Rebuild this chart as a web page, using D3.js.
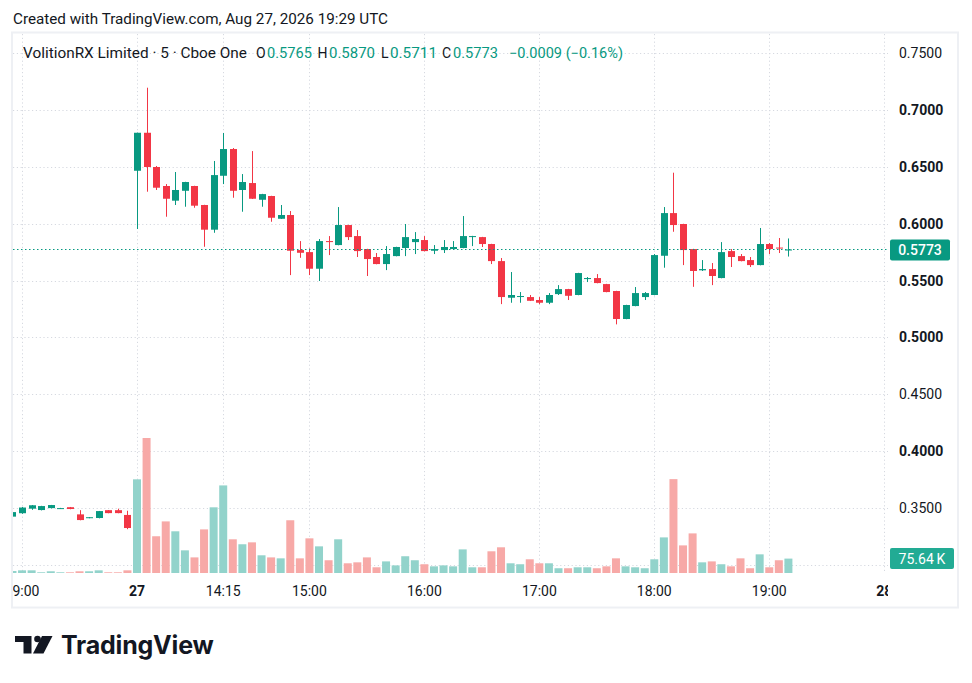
<!DOCTYPE html>
<html>
<head>
<meta charset="utf-8">
<script src="https://cdn.jsdelivr.net/npm/d3@7"></script>
<style>
  body { margin: 0; background: #fff; }
  svg text { font-family: Roboto, "Liberation Sans", sans-serif; }
</style>
</head>
<body>
<svg id="chart" width="972" height="683"></svg>
<script>
// 5 minute bars: last hour of Aug 26 (18:55-19:55) then Aug 27 from 13:30
const sessions = [
  ['2026-08-26T18:55:00Z', '2026-08-26T20:00:00Z'],
  ['2026-08-27T13:30:00Z', '2026-08-27T19:15:00Z']
]
const times = sessions.flatMap(s => d3.utcMinute.every(5).range(new Date(s[0]), new Date(s[1])))

const open = [
  0.3425, 0.3455, 0.3495, 0.3483, 0.3500, 0.3495, 0.3508, 0.3445, 0.3413, 0.3413, 0.3482, 0.3482, 0.3440,
  0.6465, 0.6799, 0.6498, 0.6331, 0.6202, 0.6289, 0.6331, 0.6164, 0.5947, 0.6421,
  0.6656, 0.6296, 0.6357, 0.6210, 0.6243, 0.6043, 0.6076, 0.5768, 0.5750, 0.5604,
  0.5847, 0.5812, 0.5988, 0.5891, 0.5777, 0.5707, 0.5645, 0.5715, 0.5786, 0.5838,
  0.5856, 0.5762, 0.5768, 0.5777, 0.5786, 0.5882, 0.5882, 0.5821, 0.5671, 0.5349,
  0.5358, 0.5355, 0.5329, 0.5305, 0.5381, 0.5425, 0.5373, 0.5513, 0.5522, 0.5469,
  0.5408, 0.5162, 0.5276, 0.5355, 0.5373, 0.5718, 0.6093, 0.5997, 0.5777, 0.5590,
  0.5601, 0.5522, 0.5759, 0.5715, 0.5680, 0.5636, 0.5821, 0.5790, 0.5765
]
const high = [
  0.3470, 0.3510, 0.3527, 0.3520, 0.3528, 0.3502, 0.3510, 0.3482, 0.3421, 0.3475, 0.3483, 0.3495, 0.3477,
  0.6800, 0.7195, 0.6507, 0.6348, 0.6454, 0.6368, 0.6333, 0.6166, 0.6551, 0.6797,
  0.6665, 0.6436, 0.6638, 0.6262, 0.6245, 0.6164, 0.6111, 0.5847, 0.5783, 0.5865,
  0.5891, 0.6146, 0.5990, 0.5944, 0.5779, 0.5742, 0.5803, 0.5797, 0.5997, 0.5926,
  0.5891, 0.5812, 0.5856, 0.5847, 0.6067, 0.5893, 0.5884, 0.5823, 0.5698, 0.5575,
  0.5399, 0.5373, 0.5355, 0.5390, 0.5460, 0.5427, 0.5568, 0.5531, 0.5557, 0.5471,
  0.5410, 0.5287, 0.5443, 0.5399, 0.5733, 0.6146, 0.6448, 0.5999, 0.5779, 0.5680,
  0.5654, 0.5838, 0.5777, 0.5733, 0.5707, 0.5962, 0.5830, 0.5874, 0.5870
]
const low = [
  0.3420, 0.3450, 0.3485, 0.3480, 0.3498, 0.3493, 0.3490, 0.3393, 0.3411, 0.3410, 0.3455, 0.3455, 0.3315,
  0.5953, 0.6281, 0.6296, 0.6061, 0.6164, 0.6149, 0.6140, 0.5797, 0.5920, 0.6348,
  0.6228, 0.6105, 0.6217, 0.6149, 0.6017, 0.6041, 0.5548, 0.5700, 0.5548, 0.5496,
  0.5724, 0.5810, 0.5856, 0.5707, 0.5540, 0.5643, 0.5592, 0.5713, 0.5715, 0.5733,
  0.5757, 0.5733, 0.5742, 0.5775, 0.5784, 0.5803, 0.5795, 0.5645, 0.5293, 0.5305,
  0.5305, 0.5320, 0.5293, 0.5293, 0.5373, 0.5329, 0.5371, 0.5487, 0.5476, 0.5397,
  0.5115, 0.5160, 0.5274, 0.5329, 0.5371, 0.5613, 0.5929, 0.5636, 0.5445, 0.5584,
  0.5460, 0.5520, 0.5619, 0.5669, 0.5619, 0.5634, 0.5733, 0.5742, 0.5711
]
const close = [
  0.3465, 0.3505, 0.3525, 0.3518, 0.3527, 0.3500, 0.3492, 0.3395, 0.3420, 0.3474, 0.3456, 0.3456, 0.3325,
  0.6799, 0.6498, 0.6316, 0.6219, 0.6296, 0.6366, 0.6158, 0.5947, 0.6427, 0.6656,
  0.6289, 0.6366, 0.6219, 0.6260, 0.6052, 0.6076, 0.5762, 0.5744, 0.5604, 0.5847,
  0.5838, 0.5988, 0.5882, 0.5759, 0.5689, 0.5645, 0.5733, 0.5795, 0.5882, 0.5865,
  0.5759, 0.5777, 0.5795, 0.5795, 0.5891, 0.5891, 0.5821, 0.5671, 0.5355, 0.5373,
  0.5364, 0.5322, 0.5305, 0.5373, 0.5425, 0.5366, 0.5566, 0.5522, 0.5478, 0.5399,
  0.5162, 0.5285, 0.5390, 0.5390, 0.5724, 0.6093, 0.5988, 0.5768, 0.5584, 0.5601,
  0.5540, 0.5750, 0.5707, 0.5671, 0.5636, 0.5821, 0.5777, 0.5782, 0.5773
]
const volume = [
  10500, 14000, 14000, 3700, 9000, 3700, 3700, 9000, 9000, 14000, 3700, 3700, 14000,
  492000, 709000, 193000, 271000, 219000, 119000, 82000, 229000, 345000, 460000,
  177000, 151000, 161000, 93000, 82000, 77000, 277000, 77000, 182000, 140000,
  67000, 177000, 51000, 56000, 82000, 30000, 61000, 40000, 88000, 67000,
  46000, 35000, 40000, 35000, 124000, 30000, 30000, 114000, 135000, 51000,
  46000, 72000, 51000, 51000, 25000, 25000, 30000, 30000, 25000, 35000,
  77000, 35000, 30000, 25000, 72000, 187000, 493000, 145000, 208000, 56000,
  61000, 46000, 35000, 77000, 25000, 98000, 30000, 67000, 75640
]

// axis ticks (0.3000 sits behind the volume tag, so it only gets a grid line)
const gridPrices = [0.30, 0.35, 0.40, 0.45, 0.50, 0.55, 0.60, 0.65, 0.70, 0.75]
const priceTicks = [0.35, 0.40, 0.45, 0.50, 0.55, 0.60, 0.65, 0.70, 0.75]
const boldPrices = [0.40, 0.50, 0.55, 0.60, 0.65, 0.70]
const timeTickIdx = [1, 13, 22, 31, 43, 55, 67, 79, 91]
const timeTickLabels = ['19:00', '27', '14:15', '15:00', '16:00', '17:00', '18:00', '19:00', '28']
const boldTimeLabels = ['27', '28']

const symbolName = 'VolitionRX Limited · 5 · Cboe One'
const createdText = 'Created with TradingView.com, Aug 27, 2026 19:29 UTC'

const up = '#089981'
const down = '#f23645'
const upVol = '#92d3cb'
const downVol = '#f7a9a7'
const textColor = '#131722'

const bars = times.map((t, i) => ({
  i, t, o: open[i], h: high[i], l: low[i], c: close[i], v: volume[i]
}))

const pane = { left: 13, right: 888, top: 34, bottom: 573 }

const svg = d3.select('#chart')

// bar index -> pixel, index 13 is the first bar of the 27th
const x = d3.scaleLinear().domain([13, 91]).range([137, 884.2])
const y = d3.scaleLinear().domain([0.30, 0.75]).range([565, 53])
const yVol = d3.scaleLinear().domain([0, d3.max(volume)]).range([pane.bottom, pane.bottom - 135])

svg.append('text')
  .attr('x', 13).attr('y', 24)
  .attr('fill', textColor)
  .attr('textLength', 375)
  .attr('lengthAdjust', 'spacingAndGlyphs')
  .style('font-size', '14.5px')
  .text(createdText)

// frame
svg.append('rect')
  .attr('x', 12).attr('y', 32.5)
  .attr('width', 946).attr('height', 575)
  .attr('fill', 'none')
  .attr('stroke', '#eef0f4')
  .attr('stroke-width', 2)

svg.append('clipPath').attr('id', 'pane')
  .append('rect')
  .attr('x', pane.left).attr('y', pane.top)
  .attr('width', pane.right - pane.left).attr('height', 607 - pane.top)

const g = svg.append('g').attr('clip-path', 'url(#pane)')

// grid
g.selectAll('.hgrid')
  .data(gridPrices)
  .join('line')
  .attr('x1', pane.left).attr('x2', pane.right)
  .attr('y1', d => Math.round(y(d)) + 0.5).attr('y2', d => Math.round(y(d)) + 0.5)
  .attr('stroke', '#d6d9e0')
  .attr('stroke-dasharray', '1.2,2.6')

g.selectAll('.vgrid')
  .data(timeTickIdx)
  .join('line')
  .attr('x1', d => Math.round(x(d)) + 0.5).attr('x2', d => Math.round(x(d)) + 0.5)
  .attr('y1', pane.top).attr('y2', pane.bottom)
  .attr('stroke', '#d6d9e0')
  .attr('stroke-dasharray', '1.2,2.6')

// volume
g.selectAll('.vol')
  .data(bars)
  .join('rect')
  .attr('x', d => x(d.i) - 4)
  .attr('width', 8)
  .attr('y', d => yVol(d.v))
  .attr('height', d => pane.bottom - yVol(d.v))
  .attr('fill', d => (d.c >= d.o ? upVol : downVol))

// candles
const candle = g.selectAll('.candle')
  .data(bars)
  .join('g')
  .attr('fill', d => (d.c >= d.o ? up : down))

candle.append('rect')
  .attr('x', d => Math.round(x(d.i)))
  .attr('width', 1)
  .attr('y', d => y(d.h))
  .attr('height', d => y(d.l) - y(d.h))

candle.append('rect')
  .attr('x', d => Math.round(x(d.i)) - 3)
  .attr('width', 7)
  .attr('y', d => y(Math.max(d.o, d.c)))
  .attr('height', d => Math.max(1, Math.abs(y(d.o) - y(d.c))))

// last price line
const last = bars[bars.length - 1]
const prev = bars[bars.length - 2]
const lastColor = last.c >= last.o ? up : down
g.append('line')
  .attr('x1', pane.left).attr('x2', pane.right)
  .attr('y1', Math.round(y(last.c)) + 0.5).attr('y2', Math.round(y(last.c)) + 0.5)
  .attr('stroke', lastColor)
  .attr('stroke-dasharray', '1.5,2.5')

// time axis labels
g.selectAll('.tlabel')
  .data(timeTickIdx)
  .join('text')
  .attr('x', d => x(d))
  .attr('y', 596)
  .attr('text-anchor', 'middle')
  .attr('fill', textColor)
  .style('font-size', '14px')
  .style('font-weight', (d, i) => (boldTimeLabels.includes(timeTickLabels[i]) ? 700 : 400))
  .text((d, i) => timeTickLabels[i])

// price axis labels
const fmt = d3.format('.4f')
svg.selectAll('.plabel')
  .data(priceTicks)
  .join('text')
  .attr('x', 899)
  .attr('y', d => y(d) + 5)
  .attr('fill', textColor)
  .style('font-size', '14px')
  .style('font-weight', d => (boldPrices.some(b => Math.abs(b - d) < 1e-9) ? 700 : 400))
  .text(d => fmt(d))

// last price tag
svg.append('rect')
  .attr('x', 890).attr('y', y(last.c) - 10)
  .attr('width', 60).attr('height', 21).attr('rx', 2)
  .attr('fill', lastColor)
svg.append('text')
  .attr('x', 920).attr('y', y(last.c) + 5.5)
  .attr('text-anchor', 'middle')
  .attr('fill', '#fff')
  .style('font-size', '14px')
  .style('font-weight', 500)
  .text(fmt(last.c))

// volume tag
svg.append('rect')
  .attr('x', 890).attr('y', 548)
  .attr('width', 64).attr('height', 21).attr('rx', 2)
  .attr('fill', '#22ab94')
svg.append('text')
  .attr('x', 922).attr('y', 563.5)
  .attr('text-anchor', 'middle')
  .attr('fill', '#fff')
  .style('font-size', '14px')
  .text((last.v / 1000).toFixed(2) + '\u2009K')

// legend, pieces placed where the reference puts them
const chg = last.c - prev.c
const sign = v => (v < 0 ? '\u2212' : '+')
const legendParts = [
  { text: symbolName, x: 23, w: 224, color: textColor },
  { text: 'O', x: 256, color: textColor },
  { text: fmt(last.o), x: 267, w: 45, color: lastColor },
  { text: 'H', x: 317.5, color: textColor },
  { text: fmt(last.h), x: 329, w: 46, color: lastColor },
  { text: 'L', x: 381, color: textColor },
  { text: fmt(last.l), x: 390, w: 47, color: lastColor },
  { text: 'C', x: 442, color: textColor },
  { text: fmt(last.c), x: 453, w: 45, color: lastColor },
  {
    text: sign(chg) + fmt(Math.abs(chg)) + ' (' + sign(chg) + (Math.abs(chg / prev.c) * 100).toFixed(2) + '%)',
    x: 509, w: 114, color: lastColor
  }
]
svg.selectAll('.legend')
  .data(legendParts)
  .join('text')
  .attr('x', d => d.x)
  .attr('y', 58)
  .attr('fill', d => d.color)
  .attr('textLength', d => d.w || null)
  .attr('lengthAdjust', 'spacingAndGlyphs')
  .style('font-size', '14px')
  .text(d => d.text)

// logo
const logo = svg.append('g').attr('fill', textColor)
logo.append('path').attr('d', 'M15,636 H31.5 V653.5 H23.5 V642 H15 Z')
logo.append('circle').attr('cx', 37.5).attr('cy', 639).attr('r', 3.3)
logo.append('path').attr('d', 'M42,636 H52.5 L43.5,653.5 H33 Z')
logo.append('text')
  .attr('x', 61).attr('y', 653.5)
  .style('font-family', 'Inter, Roboto, sans-serif')
  .style('font-size', '25px')
  .style('font-weight', 700)
  .style('letter-spacing', '-0.2px')
  .text('TradingView')
</script>
</body>
</html>
